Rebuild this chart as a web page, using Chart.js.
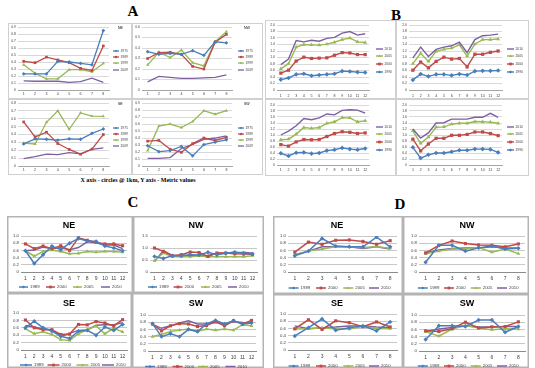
<!DOCTYPE html>
<html><head><meta charset="utf-8">
<script src="https://cdn.jsdelivr.net/npm/chart.js@4.4.0/dist/chart.umd.min.js"></script>
<style>
body{margin:0;background:#fff;width:535px;height:368px;overflow:hidden;position:relative}
canvas{position:absolute}
.h{position:absolute;font-family:"Liberation Serif","DejaVu Serif",serif;font-weight:bold;transform:translate(-50%,-50%);white-space:nowrap;color:#000;line-height:1}
</style></head><body>
<div class="h" style="left:133px;top:11px;font-size:15px">A</div>
<div class="h" style="left:396px;top:15px;font-size:15px">B</div>
<div class="h" style="left:133px;top:202px;font-size:15px">C</div>
<div class="h" style="left:400px;top:204px;font-size:15px">D</div>
<div class="h" style="left:138px;top:180px;font-size:6px">X axis - circles @ 1km, Y axis - Metric values</div>
<script>
// ---------- categories / tick labels ----------
const cats8 = ['1','2','3','4','5','6','7','8'];
const cats12 = ['1','2','3','4','5','6','7','8','9','10','11','12'];
const yearsA = ['1975','1989','1999','2009'];
const yearsB = ['2010','2005','2000','1990'];
const yearsCD = ['1989','2000','2005','2010'];

// ---------- Panel A ----------
const aNE_1975 = [0.23,0.23,0.23,0.41,0.40,0.38,0.36,0.85];
const aNE_1989 = [0.41,0.39,0.47,0.43,0.39,0.31,0.28,0.63];
const aNE_1999 = [0.36,0.24,0.16,0.16,0.29,0.29,0.26,0.38];
const aNE_2009 = [0.13,0.125,0.125,0.125,0.11,0.12,0.17,0.11];

const aNW_1975 = [0.365,0.34,0.35,0.34,0.375,0.33,0.46,0.45];
const aNW_1989 = [0.30,0.355,0.36,0.34,0.225,0.20,0.455,0.53];
const aNW_1999 = [0.24,0.36,0.31,0.38,0.26,0.23,0.46,0.555];
const aNW_2009 = [0.078,0.13,0.12,0.11,0.11,0.115,0.12,0.145];

const aSE_1975 = [0.28,0.345,0.34,0.33,0.345,0.34,0.415,0.47];
const aSE_1989 = [0.56,0.37,0.43,0.285,0.21,0.15,0.215,0.40];
const aSE_1999 = [0.29,0.28,0.555,0.70,0.465,0.675,0.635,0.63];
const aSE_2009 = [0.095,0.12,0.15,0.145,0.17,0.155,0.21,0.23];

const aSW_1975 = [0.29,0.205,0.22,0.28,0.145,0.305,0.34,0.375];
const aSW_1989 = [0.355,0.365,0.24,0.195,0.32,0.40,0.365,0.41];
const aSW_1999 = [0.22,0.57,0.60,0.55,0.635,0.79,0.74,0.79];
const aSW_2009 = [0.11,0.11,0.12,0.25,0.31,0.38,0.40,0.43];

// ---------- Panel B ----------
const b1_2010 = [0.78,0.95,1.52,1.48,1.53,1.50,1.59,1.62,1.75,1.80,1.69,1.73];
const b1_2005 = [0.65,0.81,1.32,1.40,1.39,1.38,1.41,1.47,1.55,1.60,1.48,1.46];
const b1_2000 = [0.52,0.61,0.89,1.01,0.97,0.98,0.99,1.07,1.15,1.14,1.09,1.09];
const b1_1990 = [0.32,0.37,0.48,0.50,0.44,0.46,0.48,0.50,0.58,0.57,0.55,0.54];

const b2_2010 = [0.99,1.32,1.03,1.25,1.32,1.36,1.47,1.15,1.55,1.67,1.69,1.72];
const b2_2005 = [0.81,1.13,0.88,1.19,1.25,1.29,1.39,1.04,1.41,1.55,1.55,1.57];
const b2_2000 = [0.61,0.86,0.68,0.88,1.01,0.95,0.97,0.71,1.10,1.10,1.16,1.20];
const b2_1990 = [0.31,0.49,0.42,0.48,0.48,0.45,0.49,0.46,0.58,0.59,0.59,0.60];

const b3_2010 = [1.00,1.13,1.31,1.55,1.51,1.57,1.70,1.67,1.82,1.84,1.83,1.73];
const b3_2005 = [0.84,0.86,1.03,1.25,1.22,1.25,1.39,1.44,1.58,1.57,1.44,1.47];
const b3_2000 = [0.68,0.63,0.77,0.85,0.84,0.85,0.95,1.05,1.11,1.09,1.05,1.07];
const b3_1990 = [0.39,0.30,0.41,0.42,0.38,0.40,0.48,0.51,0.57,0.53,0.51,0.55];

const b4_2010 = [1.20,0.90,1.07,1.40,1.41,1.53,1.53,1.53,1.59,1.59,1.72,1.59];
const b4_2005 = [1.14,0.72,0.93,1.26,1.27,1.36,1.39,1.39,1.45,1.44,1.43,1.39];
const b4_2000 = [0.86,0.47,0.70,0.89,0.89,0.99,0.99,1.02,1.10,1.10,1.05,0.98];
const b4_1990 = [0.59,0.23,0.34,0.40,0.40,0.44,0.49,0.49,0.53,0.53,0.52,0.42];

// ---------- Panel C ----------
const cNE_1989 = [0.59,0.235,0.48,0.72,0.62,0.80,0.93,0.86,0.85,0.72,0.67,0.59];
const cNE_2000 = [0.78,0.65,0.72,0.65,0.73,0.60,0.95,0.88,0.83,0.78,0.78,0.73];
const cNE_2005 = [0.59,0.44,0.57,0.61,0.57,0.51,0.52,0.57,0.55,0.57,0.57,0.55];
const cNE_2010 = [0.59,0.61,0.69,0.65,0.67,0.62,0.68,0.84,0.81,0.75,0.75,0.65];

const cNW_1989 = [0.65,0.56,0.68,0.68,0.72,0.71,0.82,0.72,0.78,0.83,0.78,0.75];
const cNW_2000 = [1.00,0.86,0.68,0.72,0.83,0.81,0.65,0.79,0.79,0.76,0.75,0.74];
const cNW_2005 = [0.47,0.79,0.64,0.64,0.64,0.67,0.64,0.64,0.64,0.64,0.64,0.68];
const cNW_2010 = [0.44,0.89,0.69,0.69,0.69,0.67,0.69,0.78,0.78,0.79,0.82,0.78];

const cSE_1989 = [0.60,0.78,0.60,0.51,0.37,0.31,0.51,0.53,0.40,0.62,0.53,0.69];
const cSE_2000 = [0.81,0.60,0.55,0.55,0.42,0.43,0.69,0.68,0.77,0.73,0.65,0.82];
const cSE_2005 = [0.57,0.44,0.49,0.42,0.28,0.26,0.44,0.55,0.65,0.44,0.59,0.49];
const cSE_2010 = [0.66,0.62,0.57,0.55,0.36,0.45,0.53,0.54,0.67,0.68,0.68,0.74];

const cSW_1989 = [0.76,0.40,0.48,0.40,0.60,0.54,0.75,0.85,0.75,0.84,0.75,0.78];
const cSW_2000 = [0.75,0.56,0.70,0.76,0.75,0.68,0.71,0.82,0.70,0.84,0.75,0.85];
const cSW_2005 = [0.40,0.46,0.54,0.58,0.61,0.54,0.61,0.58,0.61,0.58,0.73,0.70];
const cSW_2010 = [0.74,0.63,0.70,0.78,0.84,0.75,0.75,0.79,0.75,0.82,0.79,0.78];

// ---------- Panel D ----------
const dNE_1989 = [0.45,0.58,0.93,0.72,0.70,0.70,0.97,0.70];
const dNE_2000 = [0.55,0.83,0.77,0.88,0.89,0.85,0.77,0.87];
const dNE_2005 = [0.48,0.58,0.64,0.70,0.70,0.68,0.70,0.66];
const dNE_2010 = [0.48,0.58,0.70,0.70,0.70,0.65,0.70,0.64];

const dNW_1989 = [0.27,0.74,0.74,0.58,0.67,0.72,0.64,0.66];
const dNW_2000 = [0.53,0.74,0.86,0.79,0.75,0.74,0.70,0.78];
const dNW_2005 = [0.51,0.58,0.64,0.64,0.68,0.55,0.64,0.51];
const dNW_2010 = [0.53,0.61,0.65,0.67,0.67,0.70,0.67,0.67];

const dSE_1989 = [0.39,0.62,0.86,0.55,0.62,0.67,0.53,0.78];
const dSE_2000 = [0.59,0.84,0.57,0.81,0.76,0.65,0.78,0.64];
const dSE_2005 = [0.58,0.59,0.62,0.58,0.58,0.65,0.60,0.59];
const dSE_2010 = [0.67,0.59,0.62,0.64,0.67,0.67,0.64,0.62];

const dSW_1989 = [0.32,0.70,0.70,0.68,0.86,0.86,0.52,0.68];
const dSW_2000 = [0.56,0.54,0.62,0.80,0.64,0.67,0.68,0.81];
const dSW_2005 = [0.54,0.41,0.61,0.71,0.64,0.59,0.62,0.61];
const dSW_2010 = [0.54,0.61,0.65,0.70,0.67,0.67,0.68,0.68];

// ---------- styling ----------
const BLUE='#4A7EBB', RED='#BE4B48', GREEN='#98B954', PURPLE='#7D60A0';
const FAM = '"Liberation Sans", Arial, sans-serif';

function drawMarker(ctx, style, x, y, r){
  ctx.beginPath();
  if(style==='rectRot'){ ctx.moveTo(x,y-r); ctx.lineTo(x+r,y); ctx.lineTo(x,y+r); ctx.lineTo(x-r,y); ctx.closePath(); }
  else if(style==='rect'){ ctx.rect(x-r*0.85,y-r*0.85,r*1.7,r*1.7); }
  else if(style==='triangle'){ ctx.moveTo(x,y-r); ctx.lineTo(x+r*0.95,y+r*0.7); ctx.lineTo(x-r*0.95,y+r*0.7); ctx.closePath(); }
  ctx.fill();
}

function makeChart(cfg){
  const c = document.createElement('canvas');
  c.width = cfg.w; c.height = cfg.h;
  c.style.left = cfg.x+'px'; c.style.top = cfg.y+'px';
  c.style.width = cfg.w+'px'; c.style.height = cfg.h+'px';
  document.body.appendChild(c);
  const datasets = cfg.series.map(s => ({
    label:s.label, data:s.data, borderColor:s.color, backgroundColor:s.color,
    borderWidth:cfg.lw, pointStyle:s.marker||false, pointRadius:s.marker?cfg.pr:0,
    pointBorderWidth:0, tension:0, marker:s.marker
  }));
  const framePlugin = {
    id:'frame',
    beforeDraw(chart){
      const ctx=chart.ctx; ctx.save();
      ctx.fillStyle='#fff'; ctx.fillRect(0,0,cfg.w,cfg.h);
      ctx.strokeStyle=cfg.frameColor; ctx.lineWidth=cfg.frameW;
      ctx.strokeRect(cfg.frameW/2,cfg.frameW/2,cfg.w-cfg.frameW,cfg.h-cfg.frameW);
      ctx.restore();
    },
    afterDraw(chart){
      const ctx=chart.ctx; const L=cfg.legend;
      chart.data.datasets.forEach((ds,i)=>{
        const x0 = L.dir==='v'? L.x : L.xs[i];
        const y = L.dir==='v'? L.ys[i] : L.y;
        ctx.save();
        ctx.strokeStyle=ds.borderColor; ctx.lineWidth=cfg.lw;
        ctx.beginPath(); ctx.moveTo(x0,y); ctx.lineTo(x0+L.len,y); ctx.stroke();
        if(ds.marker){ ctx.fillStyle=ds.borderColor; drawMarker(ctx, ds.marker, x0+L.len/2, y, L.pr); }
        ctx.fillStyle='#404040'; ctx.font=L.fs+'px '+FAM;
        ctx.textBaseline='middle'; ctx.textAlign='left';
        ctx.fillText(ds.label, x0+L.len+L.gap, y);
        ctx.restore();
      });
      if(cfg.title){
        const T=cfg.title; ctx.save();
        ctx.fillStyle='#000'; ctx.font=(T.bold?'bold ':'')+T.fs+'px '+FAM;
        ctx.textAlign=T.align; ctx.textBaseline='middle';
        ctx.fillText(T.text, T.x, T.y); ctx.restore();
      }
    }
  };
  new Chart(c, {
    type:'line',
    data:{labels:cfg.labels, datasets},
    options:{
      responsive:false, animation:false, devicePixelRatio:1,
      layout:{padding:{left:0, top:cfg.plot.t, right:cfg.w-cfg.plot.r, bottom:0}},
      plugins:{legend:{display:false}, tooltip:{enabled:false}, title:{display:false}},
      scales:{
        x:{offset:true,
           grid:{display:false, drawTicks:false},
           border:{display:true, color:cfg.axisColor, width:1},
           ticks:{font:{size:cfg.xfs, family:FAM}, color:'#404040', padding:cfg.xpad, maxRotation:0, autoSkip:false},
           afterFit:s=>{s.height=cfg.h-cfg.plot.b;}},
        y:{min:cfg.ymin, max:cfg.ymax,
           ticks:{stepSize:cfg.step, autoSkip:false, font:{size:cfg.yfs, family:FAM}, color:'#404040', padding:cfg.ypad},
           grid:{color:cfg.gridColor, drawTicks:false, lineWidth:1},
           border:{display:false},
           afterFit:s=>{s.width=cfg.plot.l;}}
      }
    },
    plugins:[framePlugin]
  });
}

const base = {ymin:0, lw:1.3, frameColor:'#d0d0d0', frameW:1, gridColor:'#d9d9d9', axisColor:'#a6a6a6'};

// Panel A
const A = Object.assign({}, base, {labels:cats8, step:0.1, pr:1.9, xfs:3.6, yfs:3.4, xpad:2, ypad:2});
const legA = (x, ys)=>({dir:'v', x, ys, len:6, gap:1.5, fs:3.3, pr:1.3});
const serA = (s1,s2,s3,s4)=>[
  {label:yearsA[0], data:s1, color:BLUE, marker:'rectRot'},
  {label:yearsA[1], data:s2, color:RED, marker:'rect'},
  {label:yearsA[2], data:s3, color:GREEN, marker:'triangle'},
  {label:yearsA[3], data:s4, color:PURPLE}];
makeChart(Object.assign({}, A, {x:8,y:23,w:124,h:76, plot:{l:10,r:101,t:4,b:67}, ymax:0.9,
  series:serA(aNE_1975,aNE_1989,aNE_1999,aNE_2009), legend:legA(105,[28,34,40,47]),
  title:{text:'NE', x:110, y:5, fs:3.5, align:'left'}}));
makeChart(Object.assign({}, A, {x:132,y:23,w:131,h:76, plot:{l:10,r:100,t:4,b:67}, ymax:0.6,
  series:serA(aNW_1975,aNW_1989,aNW_1999,aNW_2009), legend:legA(106,[28,34,40,47]),
  title:{text:'NW', x:112, y:5, fs:3.5, align:'left'}}));
makeChart(Object.assign({}, A, {x:8,y:99,w:124,h:76, plot:{l:10,r:101,t:4,b:67}, ymax:0.8,
  series:serA(aSE_1975,aSE_1989,aSE_1999,aSE_2009), legend:legA(105,[29,35,41,47]),
  title:{text:'SE', x:110, y:5, fs:3.5, align:'left'}}));
makeChart(Object.assign({}, A, {x:132,y:99,w:131,h:76, plot:{l:10,r:100,t:4,b:67}, ymax:0.9,
  series:serA(aSW_1975,aSW_1989,aSW_1999,aSW_2009), legend:legA(106,[29,35,41,47]),
  title:{text:'SW', x:112, y:5, fs:3.5, align:'left'}}));

// Panel B
const B = Object.assign({}, base, {labels:cats12, step:0.2, ymax:2, pr:2.3, lw:1.4, xfs:3.6, yfs:3.4, ypad:2});
const legB = (ys)=>({dir:'v', x:111, ys, len:7, gap:1.5, fs:3.3, pr:1.6});
const serB = (s1,s2,s3,s4)=>[
  {label:yearsB[0], data:s1, color:PURPLE},
  {label:yearsB[1], data:s2, color:GREEN, marker:'triangle'},
  {label:yearsB[2], data:s3, color:RED, marker:'rect'},
  {label:yearsB[3], data:s4, color:BLUE, marker:'rectRot'}];
makeChart(Object.assign({}, B, {x:265,y:20,w:131,h:79, plot:{l:12,r:104,t:5,b:70}, xpad:4,
  series:serB(b1_2010,b1_2005,b1_2000,b1_1990), legend:legB([29,36,44,52])}));
makeChart(Object.assign({}, B, {x:396,y:20,w:133,h:79, plot:{l:13,r:106,t:5,b:70}, xpad:4,
  series:serB(b2_2010,b2_2005,b2_2000,b2_1990), legend:legB([29,36,44,52])}));
makeChart(Object.assign({}, B, {x:265,y:99,w:131,h:77, plot:{l:12,r:104,t:6,b:66}, xpad:3,
  series:serB(b3_2010,b3_2005,b3_2000,b3_1990), legend:legB([28,35,43,51])}));
makeChart(Object.assign({}, B, {x:396,y:99,w:133,h:77, plot:{l:13,r:106,t:6,b:66}, xpad:3,
  series:serB(b4_2010,b4_2005,b4_2000,b4_1990), legend:legB([28,35,43,51])}));

// Panels C and D
const CD = Object.assign({}, base, {step:0.2, ymax:1, pr:2.2, lw:1.5, xfs:5, yfs:4.3, xpad:4, ypad:2,
  frameColor:'#b4b4b4', frameW:1.5, gridColor:'#c8c8c8', axisColor:'#8c8c8c'});
const legCD = (y, xs, len)=>({dir:'h', y, xs, len:len||10, gap:2, fs:4.3, pr:1.6});
const serCD = (s1,s2,s3,s4)=>[
  {label:yearsCD[0], data:s1, color:BLUE, marker:'rectRot'},
  {label:yearsCD[1], data:s2, color:RED, marker:'rect'},
  {label:yearsCD[2], data:s3, color:GREEN, marker:'triangle'},
  {label:yearsCD[3], data:s4, color:PURPLE}];
const ttl = (text,x,y)=>({text, x, y, fs:9, bold:true, align:'center'});

makeChart(Object.assign({}, CD, {labels:cats12, x:7,y:216,w:126,h:77, plot:{l:14,r:120,t:20,b:56},
  series:serCD(cNE_1989,cNE_2000,cNE_2005,cNE_2010), legend:legCD(71,[12,39,66,94],9), title:ttl('NE',62,10)}));
makeChart(Object.assign({}, CD, {labels:cats12, x:133,y:216,w:131,h:77, plot:{l:17,r:124,t:20,b:56}, ymax:1.5, step:0.5,
  series:serCD(cNW_1989,cNW_2000,cNW_2005,cNW_2010), legend:legCD(71,[15,40.5,68,95],9), title:ttl('NW',63,10)}));
makeChart(Object.assign({}, CD, {labels:cats12, x:7,y:293,w:125,h:75, plot:{l:14,r:120,t:20,b:57},
  series:serCD(cSE_1989,cSE_2000,cSE_2005,cSE_2010), legend:legCD(72,[13,40.5,69.5,95],12), title:ttl('SE',62,10.5)}));
makeChart(Object.assign({}, CD, {labels:cats12, x:132,y:293,w:132,h:75, plot:{l:16,r:124,t:22,b:58},
  series:serCD(cSW_1989,cSW_2000,cSW_2005,cSW_2010), legend:legCD(73.5,[13,40.5,66,93.4],10), title:ttl('SW',64,11)}));

makeChart(Object.assign({}, CD, {labels:cats8, x:273,y:216,w:130,h:78, plot:{l:15,r:124,t:20,b:56},
  series:serCD(dNE_1989,dNE_2000,dNE_2005,dNE_2010), legend:legCD(72,[15.6,43,70.3,96]), title:ttl('NE',64,10)}));
makeChart(Object.assign({}, CD, {labels:cats8, x:403,y:216,w:126,h:78, plot:{l:16,r:123,t:20,b:56},
  series:serCD(dNW_1989,dNW_2000,dNW_2005,dNW_2010), legend:legCD(72,[14.8,41,67.8,94]), title:ttl('NW',64,10)}));
makeChart(Object.assign({}, CD, {labels:cats8, x:273,y:294,w:130,h:74, plot:{l:15,r:124,t:20,b:56},
  series:serCD(dSE_1989,dSE_2000,dSE_2005,dSE_2010), legend:legCD(72,[15.6,43,70.3,96]), title:ttl('SE',64,9.5)}));
makeChart(Object.assign({}, CD, {labels:cats8, x:403,y:294,w:126,h:74, plot:{l:16,r:123,t:21,b:57},
  series:serCD(dSW_1989,dSW_2000,dSW_2005,dSW_2010), legend:legCD(72,[14.8,41,67.8,94]), title:ttl('SW',64,9.5)}));
</script>
</body></html>
